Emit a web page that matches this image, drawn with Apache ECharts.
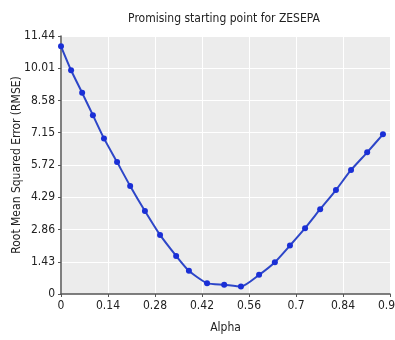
<!DOCTYPE html>
<html>
<head>
<meta charset="utf-8">
<script src="https://cdn.jsdelivr.net/npm/echarts@6/dist/echarts.min.js"></script>
<style>
  html, body { margin: 0; padding: 0; background: #fff; }
  #chart { width: 395px; height: 340px; }
</style>
</head>
<body>
<div id="chart"></div>
<script>
// alpha values (x) and RMSE values (y)
const alphaValues = [0, 0.030, 0.063, 0.095, 0.128, 0.167, 0.206, 0.250, 0.295, 0.343, 0.381,
  0.435, 0.486, 0.536, 0.590, 0.637, 0.682, 0.727, 0.772, 0.819, 0.864, 0.912, 0.959]
const rmseValues = [10.98, 9.92, 8.92, 7.93, 6.90, 5.85, 4.79, 3.68, 2.62, 1.69, 1.03,
  0.48, 0.41, 0.33, 0.85, 1.41, 2.15, 2.92, 3.76, 4.61, 5.50, 6.28, 7.08]
const xTicks = { min: 0, max: 0.98, step: 0.14 }
const yTicks = { min: 0, max: 11.44, step: 1.43 }

const font = '"Liberation Sans Narrow", "DejaVu Sans Condensed", sans-serif'
const chart = echarts.init(document.getElementById('chart'))

chart.setOption({
  backgroundColor: '#fff',
  animation: false,
  title: {
    text: 'Promising starting point for ZESEPA',
    left: 219,
    top: 8,
    textAlign: 'center',
    textStyle: { fontFamily: font, fontSize: 12, fontWeight: 'normal', color: '#222' }
  },
  grid: {
    left: 61,
    right: 5,
    top: 36,
    bottom: 46,
    outerBoundsMode: 'none',
    containLabel: false,
    show: true,
    backgroundColor: '#ececec',
    borderWidth: 0
  },
  xAxis: {
    type: 'value',
    min: xTicks.min,
    max: xTicks.max,
    interval: xTicks.step,
    name: 'Alpha',
    nameLocation: 'middle',
    nameGap: 28,
    nameMoveOverlap: false,
    nameTextStyle: { fontFamily: font, fontSize: 12, color: '#222' },
    axisLine: { show: true, lineStyle: { color: '#555', width: 1.5 } },
    axisTick: { show: true, length: 3, lineStyle: { color: '#555' } },
    axisLabel: {
      fontFamily: font, fontSize: 12, color: '#222', margin: 6,
      formatter: v => String(+v.toFixed(2))
    },
    splitLine: { show: true, lineStyle: { color: '#fff', width: 1 } }
  },
  yAxis: {
    type: 'value',
    min: yTicks.min,
    max: yTicks.max,
    interval: yTicks.step,
    name: 'Root Mean Squared Error (RMSE)',
    nameLocation: 'middle',
    nameGap: 38,
    nameMoveOverlap: false,
    nameTextStyle: { fontFamily: font, fontSize: 12, color: '#222' },
    axisLine: { show: true, lineStyle: { color: '#555', width: 1.5 } },
    axisTick: { show: true, length: 3, lineStyle: { color: '#555' } },
    axisLabel: {
      fontFamily: font, fontSize: 12, color: '#222', margin: 6,
      formatter: v => String(+v.toFixed(2))
    },
    splitLine: { show: true, lineStyle: { color: '#fff', width: 1 } }
  },
  series: [{
    type: 'line',
    data: alphaValues.map((a, i) => [a, rmseValues[i]]),
    smooth: 0.2,
    symbol: 'circle',
    symbolSize: 6,
    lineStyle: { color: '#2d46c8', width: 2 },
    itemStyle: { color: '#1a2fd6' }
  }]
})
</script>
</body>
</html>
